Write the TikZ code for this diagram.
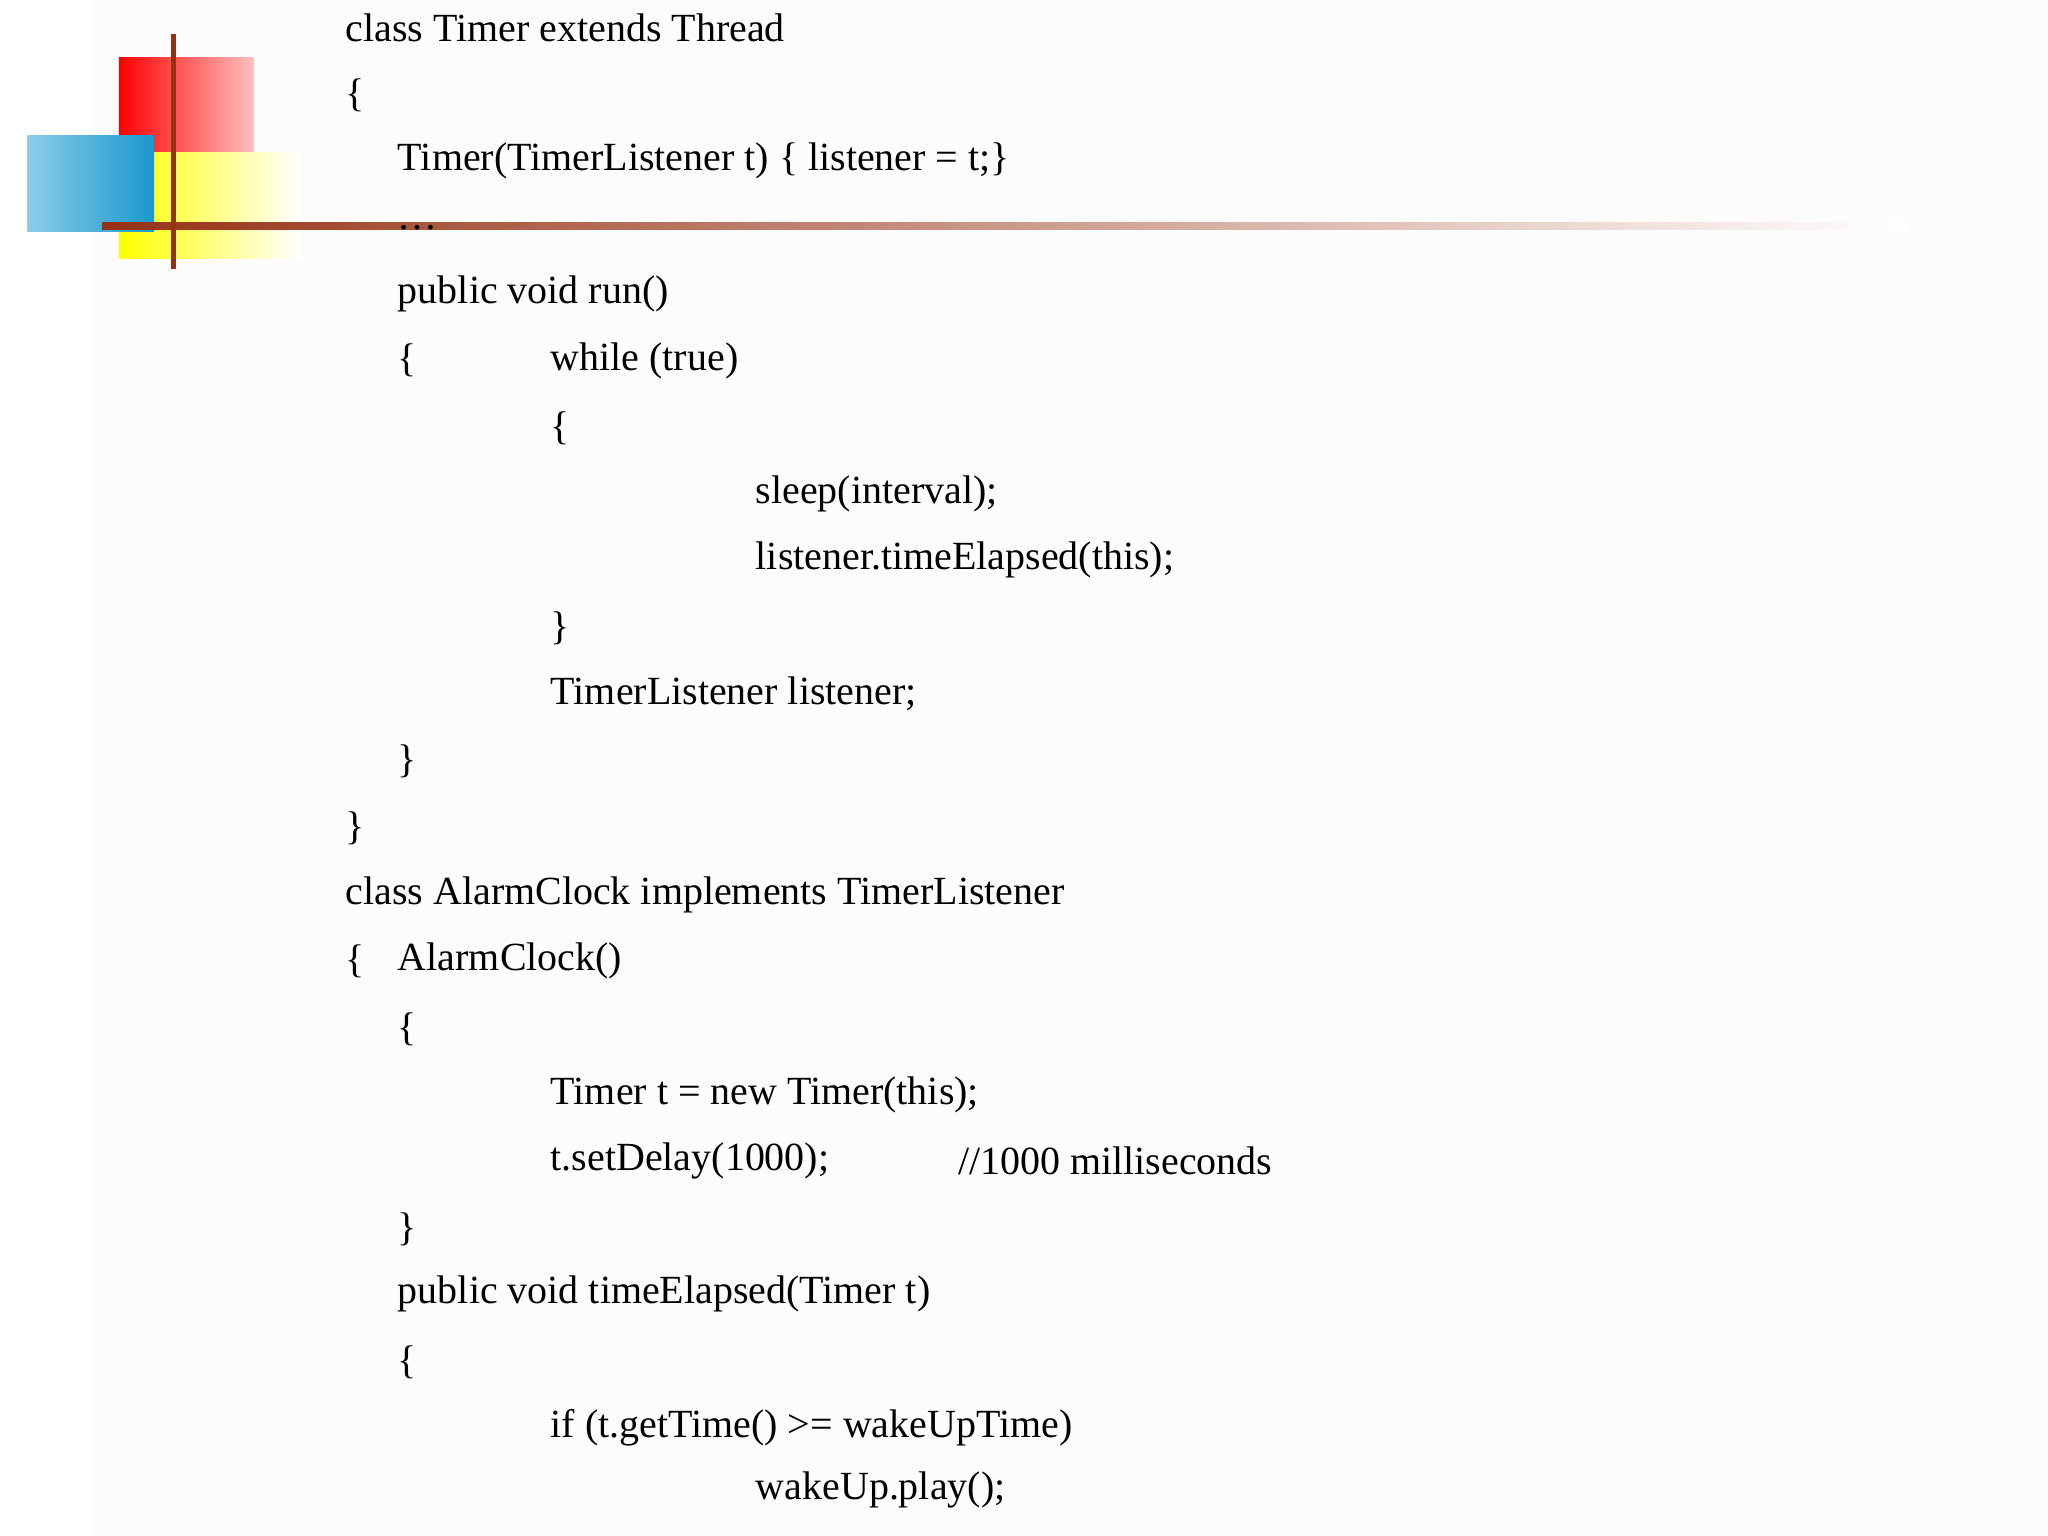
\documentclass[tikz,border=0pt]{standalone}
\usepackage{fontspec}
\setmainfont{Liberation Serif}
\definecolor{brn}{RGB}{150,50,20}
\definecolor{bl1}{RGB}{140,205,232}
\definecolor{bl2}{RGB}{25,152,205}
\begin{document}
\begin{tikzpicture}[x=0.01cm,y=-0.01cm,
  code/.style={anchor=west,inner sep=0pt,font=\fontsize{8.7pt}{10pt}\selectfont}]
\useasboundingbox (0,0) rectangle (1568,1176);
\fill[gray!2] (70,0) rectangle (1568,1176);
\shade[left color=red,right color=red!25] (91,44) rectangle (194,117);
\shade[left color=yellow,right color=white] (91,117) rectangle (230,198);
\shade[left color=bl1,right color=bl2] (21,104) rectangle (118,177);
\shade[left color=brn,right color=white,middle color=brn!50] (78,170) rectangle (1460,176);
\fill[brn] (131,26) rectangle (135,206);
\node[code] (l1) at (264,21) {class Timer extends Thread};
\node[code] (l2) at (264,73) {\{};
\node[code] (l3) at (304,123) {Timer(TimerListener t) \{ listener = t;\}};
\node[code] (l4) at (304,174) {\dots};
\node[code] (l5) at (304,225) {public void run()};
\node[code] (l6) at (304,276) {\{};
\node[code] (l6b) at (421,276) {while (true)};
\node[code] (l7) at (421,328) {\{};
\node[code] (l8) at (578,378) {sleep(interval);};
\node[code] (l9) at (578,429) {listener.timeElapsed(this);};
\node[code] (l10) at (421,481) {\}};
\node[code] (l11) at (421,531) {TimerListener listener;};
\node[code] (l12) at (304,583) {\}};
\node[code] (l13) at (264,634) {\}};
\node[code] (l14) at (264,685) {class AlarmClock implements TimerListener};
\node[code] (l15) at (264,736) {\{};
\node[code] (l15b) at (304,736) {AlarmClock()};
\node[code] (l16) at (304,788) {\{};
\node[code] (l17) at (421,838) {Timer t = new Timer(this);};
\node[code] (l18) at (421,889) {t.setDelay(1000);};
\node[code] (l18b) at (733,889) {//1000 milliseconds};
\node[code] (l19) at (304,941) {\}};
\node[code] (l20) at (304,991) {public void timeElapsed(Timer t)};
\node[code] (l21) at (304,1043) {\{};
\node[code] (l22) at (421,1093) {if (t.getTime() >= wakeUpTime)};
\node[code] (l23) at (578,1141) {wakeUp.play();};
\end{tikzpicture}
\end{document}
